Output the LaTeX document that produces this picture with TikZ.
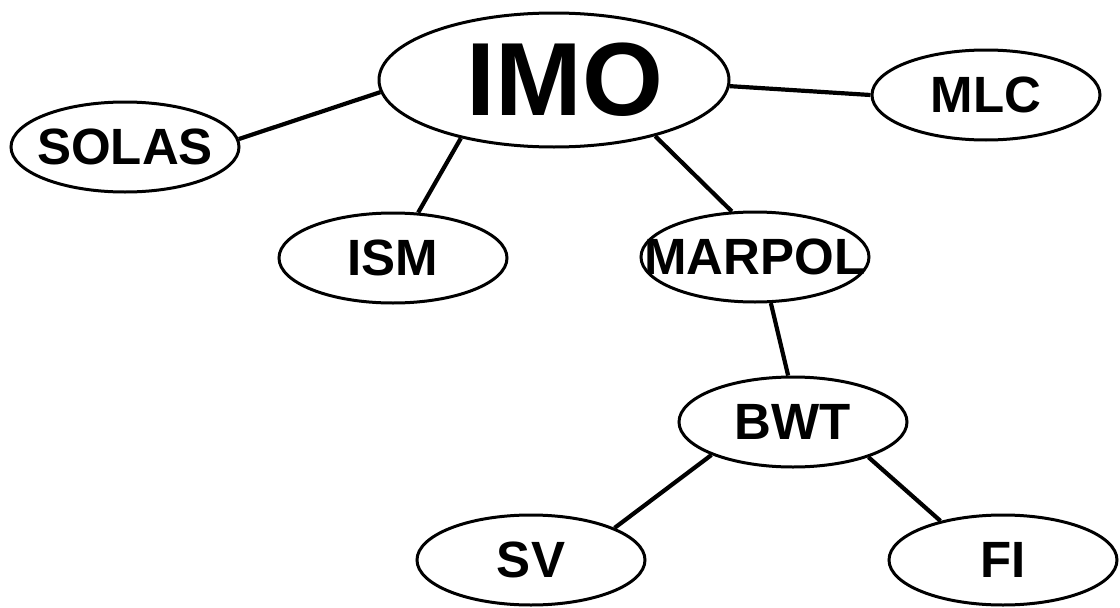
\documentclass[tikz,border=0pt]{standalone}
\usepackage{fontspec}
\setmainfont{Liberation Sans}
\usetikzlibrary{shapes.geometric}
\newcommand{\zw}[1]{\makebox[0pt]{#1}}
\begin{document}
\begin{tikzpicture}[x=1pt,y=-1pt,
  oval/.style={ellipse,draw,line width=3pt,inner sep=0pt,
    minimum width=228pt,minimum height=90pt,
    font=\fontsize{51}{56}\selectfont\bfseries},
  big/.style={oval,minimum width=350pt,minimum height=134pt,
    font=\fontsize{104}{110}\selectfont\bfseries},
  link/.style={line width=4.2pt}]
\useasboundingbox (0,0) rectangle (1120,608);
\node[big]  (imo)    at (554,80)  {\zw{\hspace{22pt}IMO}};
\node[oval] (solas)  at (125,147) {\zw{SOLAS}};
\node[oval] (mlc)    at (986,95)  {\zw{MLC}};
\node[oval] (ism)    at (393,258) {\zw{ISM}};
\node[oval] (marpol) at (755,257) {\zw{MARPOL}};
\node[oval] (bwt)    at (793,422) {\zw{BWT}};
\node[oval] (sv)     at (531,560) {\zw{SV}};
\node[oval] (fi)     at (1003,560){\zw{FI}};
\draw[link] (imo.184) -- (solas.4);
\draw[link] (imo.358) -- (mlc.180);
\draw[link] (imo.212) -- (ism.61);
\draw[link] (imo.331) -- (marpol.117);
\draw[link] (marpol.289) -- (bwt.96);
\draw[link] (bwt.202) -- (sv.21);
\draw[link] (bwt.335) -- (fi.148);
\end{tikzpicture}
\end{document}
